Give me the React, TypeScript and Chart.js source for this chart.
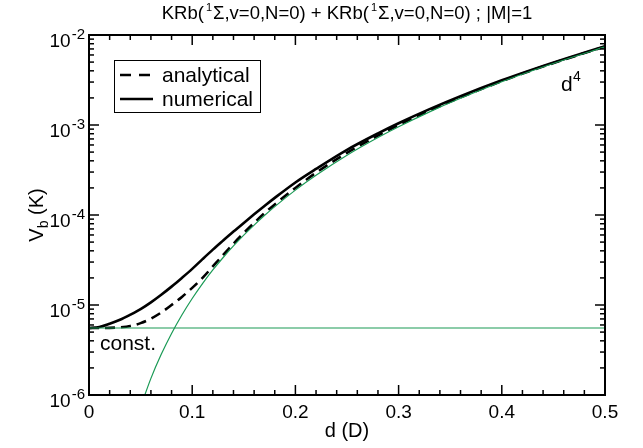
import React, { useEffect, useRef } from "react";
import { Chart, registerables } from "chart.js";

Chart.register(...registerables);

// ---- data ----
const dGrid = [0, 0.01, 0.02, 0.03, 0.04, 0.05, 0.06, 0.07, 0.08, 0.09, 0.1, 0.11, 0.12, 0.13, 0.14, 0.15, 0.16, 0.17, 0.18, 0.2, 0.22, 0.25, 0.28, 0.3, 0.33, 0.36, 0.4, 0.43, 0.46, 0.5];
const numericalV = [5.55e-6, 5.7e-6, 6.2e-6, 6.85e-6, 7.8e-6, 9.0e-6, 1.07e-5, 1.3e-5, 1.6e-5, 2.0e-5, 2.52e-5, 3.23e-5, 4.12e-5, 5.2e-5, 6.54e-5, 8.17e-5, 1.017e-4, 1.26e-4, 1.55e-4, 2.3e-4, 3.25e-4, 5.3e-4, 8.07e-4, 1.046e-3, 1.5e-3, 2.09e-3, 3.14e-3, 4.15e-3, 5.39e-3, 7.48e-3];
const analyticalV = [5.55e-6, 5.55e-6, 5.57e-6, 5.65e-6, 5.85e-6, 6.29e-6, 7.05e-6, 8.25e-6, 1.0e-5, 1.23e-5, 1.55e-5, 2.0e-5, 2.685e-5, 3.6e-5, 4.8e-5, 6.31e-5, 8.18e-5, 1.045e-4, 1.312e-4, 2.0e-4, 2.95e-4, 4.91e-4, 7.63e-4, 9.98e-4, 1.448e-3, 2.03e-3, 3.07e-3, 4.08e-3, 5.32e-3, 7.42e-3];
const d4D = [0.05, 0.06, 0.07, 0.08, 0.09, 0.1, 0.11, 0.12, 0.13, 0.14, 0.15, 0.16, 0.17, 0.18, 0.2, 0.22, 0.25, 0.28, 0.3, 0.33, 0.36, 0.4, 0.43, 0.46, 0.5];
const d4V = [7.38e-7, 1.53e-6, 2.83e-6, 4.83e-6, 7.74e-6, 1.18e-5, 1.73e-5, 2.45e-5, 3.37e-5, 4.53e-5, 5.97e-5, 7.73e-5, 9.86e-5, 1.24e-4, 1.89e-4, 2.76e-4, 4.61e-4, 7.25e-4, 9.56e-4, 1.4e-3, 1.98e-3, 3.02e-3, 4.03e-3, 5.28e-3, 7.38e-3];
const constD = [0, 0.5];
const constV = [5.55e-6, 5.55e-6];

const xMajorTicks = [0, 0.1, 0.2, 0.3, 0.4, 0.5];
const xTickLabels = ["0", "0.1", "0.2", "0.3", "0.4", "0.5"];
const yDecadeExps = [-6, -5, -4, -3, -2];

const seriesLabels = ["analytical", "numerical"];
const xTitle = "d (D)";
const FONT = '"Liberation Sans", Arial, Helvetica, sans-serif';
const GREEN = "#1a9a55";

function pts(xs: number[], ys: number[]) {
  return xs.map((x, i) => ({ x, y: ys[i] }));
}

const decor = {
  id: "decor",
  afterDraw(chart: any) {
    const ctx = chart.ctx as CanvasRenderingContext2D;
    const xs = chart.scales.x;
    const ys = chart.scales.y;
    const ca = chart.chartArea;
    ctx.save();
    ctx.strokeStyle = "#000";
    ctx.fillStyle = "#000";

    ctx.lineWidth = 1.5;
    const seg = (x1: number, y1: number, x2: number, y2: number) => {
      ctx.beginPath();
      ctx.moveTo(x1, y1);
      ctx.lineTo(x2, y2);
      ctx.stroke();
    };
    // x ticks, inward, mirrored on top
    for (let k = 0; k <= 25; k++) {
      const v = k * 0.02;
      const major = k % 5 === 0;
      const L = major ? 10 : 5;
      const px = xs.getPixelForValue(v);
      seg(px, ca.bottom, px, ca.bottom - L);
      seg(px, ca.top, px, ca.top + L);
    }
    // y ticks (log), inward, mirrored on right
    for (const e of yDecadeExps) {
      for (let m = 1; m <= 9; m++) {
        const val = m * Math.pow(10, e);
        if (val > 1e-2 * 1.0001) break;
        const py = ys.getPixelForValue(val);
        const L = m === 1 ? 10 : 5;
        seg(ca.left, py, ca.left + L, py);
        seg(ca.right, py, ca.right - L, py);
      }
    }

    // frame
    ctx.lineWidth = 2;
    ctx.strokeRect(ca.left, ca.top, ca.right - ca.left, ca.bottom - ca.top);

    // x tick labels
    ctx.font = `19px ${FONT}`;
    ctx.textAlign = "center";
    ctx.textBaseline = "alphabetic";
    xMajorTicks.forEach((v, i) => {
      ctx.fillText(xTickLabels[i], xs.getPixelForValue(v), ca.bottom + 23);
    });

    // y tick labels 10^e
    yDecadeExps.forEach((e) => {
      const py = ys.getPixelForValue(Math.pow(10, e));
      ctx.font = `15px ${FONT}`;
      const sup = String(e);
      const wSup = ctx.measureText(sup).width;
      ctx.textAlign = "left";
      const right = ca.left - 4;
      ctx.fillText(sup, right - wSup, py + 4);
      ctx.font = `19px ${FONT}`;
      const wBase = ctx.measureText("10").width;
      ctx.fillText("10", right - wSup - wBase - 1, py + 12);
    });

    // x title
    ctx.font = `20px ${FONT}`;
    ctx.textAlign = "center";
    ctx.fillText(xTitle, (ca.left + ca.right) / 2, ca.bottom + 42);

    // y title V_b (K)
    ctx.save();
    ctx.translate(43, (ca.top + ca.bottom) / 2);
    ctx.rotate(-Math.PI / 2);
    ctx.textAlign = "left";
    ctx.font = `20px ${FONT}`;
    const wV = ctx.measureText("V").width;
    ctx.font = `14px ${FONT}`;
    const wb = ctx.measureText("b").width;
    ctx.font = `20px ${FONT}`;
    const wK = ctx.measureText(" (K)").width;
    const tot = wV + wb + wK;
    let cx = -tot / 2;
    ctx.fillText("V", cx, 0);
    cx += wV;
    ctx.font = `14px ${FONT}`;
    ctx.fillText("b", cx, 5);
    cx += wb;
    ctx.font = `20px ${FONT}`;
    ctx.fillText(" (K)", cx, 0);
    ctx.restore();

    // title with superscripts
    const parts: [string, boolean][] = [
      ["KRb(", false], ["1", true], ["Σ,v=0,N=0) + KRb(", false], ["1", true], ["Σ,v=0,N=0) ; |M|=1", false],
    ];
    const tSize = 18.5, sSize = 11;
    let tw = 0;
    parts.forEach(([s, sp]) => {
      ctx.font = `${sp ? sSize : tSize}px ${FONT}`;
      tw += ctx.measureText(s).width + (sp ? 3 : 0);
    });
    let tx = (ca.left + ca.right) / 2 - tw / 2;
    ctx.textAlign = "left";
    parts.forEach(([s, sp]) => {
      ctx.font = `${sp ? sSize : tSize}px ${FONT}`;
      if (sp) {
        ctx.fillText(s, tx + 2, 11);
        tx += ctx.measureText(s).width + 3;
      } else {
        ctx.fillText(s, tx, 19);
        tx += ctx.measureText(s).width;
      }
    });

    // legend box
    ctx.lineWidth = 1;
    ctx.strokeRect(114.5, 60.5, 146, 52);
    ctx.lineWidth = 2.6;
    ctx.setLineDash([11, 8]);
    seg(120, 75, 153, 75);
    ctx.setLineDash([]);
    seg(120, 99, 153, 99);
    ctx.font = `21px ${FONT}`;
    ctx.textAlign = "left";
    ctx.fillText(seriesLabels[0], 162, 82);
    ctx.fillText(seriesLabels[1], 162, 106);

    // annotations
    ctx.font = `21px ${FONT}`;
    ctx.fillText("const.", 100, 350);
    ctx.fillText("d", 561, 91);
    ctx.font = `14px ${FONT}`;
    ctx.fillText("4", 573, 81);

    ctx.restore();
  },
};

export default function App() {
  const ref = useRef<HTMLCanvasElement | null>(null);
  useEffect(() => {
    if (!ref.current) return;
    const chart = new Chart(ref.current, {
      type: "line",
      data: {
        datasets: [
          { label: "const", data: pts(constD, constV), borderColor: GREEN, borderWidth: 1.2, pointRadius: 0, tension: 0 },
          { label: "d4", data: pts(d4D, d4V), borderColor: GREEN, borderWidth: 1.2, pointRadius: 0, cubicInterpolationMode: "monotone" },
          { label: "analytical", data: pts(dGrid, analyticalV), borderColor: "#000", borderWidth: 2.6, borderDash: [10, 6], pointRadius: 0, cubicInterpolationMode: "monotone" },
          { label: "numerical", data: pts(dGrid, numericalV), borderColor: "#000", borderWidth: 2.6, pointRadius: 0, cubicInterpolationMode: "monotone" },
        ],
      },
      options: {
        animation: false,
        responsive: false,
        devicePixelRatio: 1,
        parsing: false as any,
        layout: { padding: { left: 89, right: 38, top: 35, bottom: 53 } },
        scales: {
          x: { type: "linear", min: 0, max: 0.5, display: false },
          y: { type: "logarithmic", min: 1e-6, max: 1e-2, display: false },
        },
        plugins: { legend: { display: false }, tooltip: { enabled: false }, title: { display: false } },
      },
      plugins: [decor],
    });
    return () => chart.destroy();
  }, []);
  return (
    <div style={{ position: "absolute", left: 0, top: 0, width: 643, height: 448, background: "#fff" }}>
      <canvas ref={ref} width={643} height={448} style={{ width: 643, height: 448 }} />
    </div>
  );
}
